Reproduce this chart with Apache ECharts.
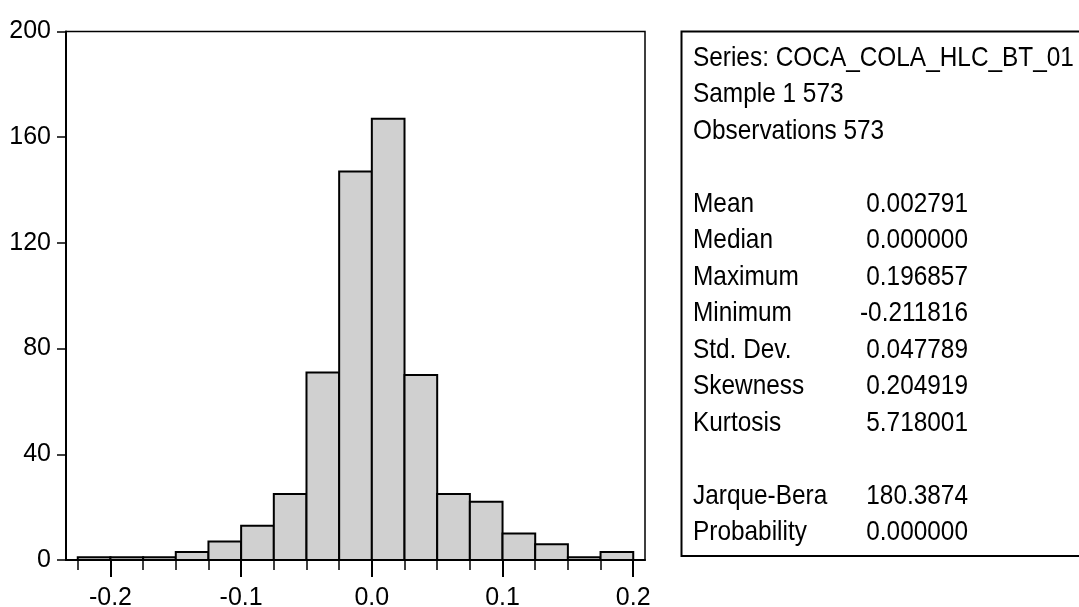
<!DOCTYPE html>
<html>
<head>
<meta charset="utf-8">
<script src="https://cdn.jsdelivr.net/npm/echarts@6/dist/echarts.min.js"></script>
<style>
  html, body { margin: 0; padding: 0; background: #fff; }
  #chart { width: 1079px; height: 607px; }
</style>
</head>
<body>
<div id="chart"></div>
<script>
  // histogram bins (lower edge), width 0.025
  var binLower = [-0.225, -0.2, -0.175, -0.15, -0.125, -0.1, -0.075, -0.05, -0.025,
                  0, 0.025, 0.05, 0.075, 0.1, 0.125, 0.15, 0.175];
  var binWidth = 0.025;
  var counts = [1, 1, 1, 3, 7, 13, 25, 71, 147, 167, 70, 25, 22, 10, 6, 1, 3];

  var xMajorTicks = [-0.2, -0.1, 0.0, 0.1, 0.2];
  var xMinorTicks = [-0.225, -0.2, -0.175, -0.15, -0.125, -0.1, -0.075, -0.05, -0.025,
                     0, 0.025, 0.05, 0.075, 0.1, 0.125, 0.15, 0.175, 0.2];

  // stats panel
  var headerLines = ['Series: COCA_COLA_HLC_BT_01', 'Sample 1 573', 'Observations 573'];
  var statNames = ['Mean', 'Median', 'Maximum', 'Minimum', 'Std. Dev.', 'Skewness', 'Kurtosis'];
  var statValues = ['0.002791', '0.000000', '0.196857', '-0.211816', '0.047789', '0.204919', '5.718001'];
  var testNames = ['Jarque-Bera', 'Probability'];
  var testValues = ['180.3874', '0.000000'];

  var font = 'Arial, "Liberation Sans", sans-serif';
  var chart = echarts.init(document.getElementById('chart'));

  var histData = binLower.map(function (lo, i) { return [lo, lo + binWidth, counts[i]]; });

  // text elements for the stats box
  var lineH = 36.5, y0 = 58, txtX = 693, valX = 968;
  var graphics = [{
    type: 'rect',
    shape: { x: 681.5, y: 31.5, width: 430, height: 524.5 },
    style: { fill: 'none', stroke: '#000', lineWidth: 2 }
  }];
  function addText(str, x, row, align) {
    graphics.push({
      type: 'text', x: x, y: y0 + row * lineH, scaleY: 1.12,
      style: { text: str, font: '24.4px ' + font, fill: '#000', align: align || 'left', verticalAlign: 'middle' }
    });
  }
  headerLines.forEach(function (s, i) { addText(s, txtX, i); });
  statNames.forEach(function (s, i) { addText(s, txtX, 4 + i); addText(statValues[i], valX, 4 + i, 'right'); });
  testNames.forEach(function (s, i) { addText(s, txtX, 12 + i); addText(testValues[i], valX, 12 + i, 'right'); });

  var option = {
    animation: false,
    backgroundColor: '#fff',
    textStyle: { fontFamily: font },
    grid: {
      left: 66, right: 434, top: 31.5, bottom: 47,
      outerBoundsMode: 'none', containLabel: false,
      show: true, borderColor: '#000', borderWidth: 1.5, backgroundColor: 'transparent'
    },
    xAxis: [{
      type: 'value', min: -0.234, max: 0.209,
      splitLine: { show: false },
      axisLine: { show: true, onZero: false, lineStyle: { color: '#000', width: 2 } },
      axisTick: { show: true, length: 17, customValues: xMajorTicks, lineStyle: { color: '#000', width: 2 } },
      axisLabel: {
        customValues: xMajorTicks, margin: 26, color: '#000', fontSize: 25, fontFamily: font,
        formatter: function (v) { return v.toFixed(1); }
      }
    }, {
      type: 'value', min: -0.234, max: 0.209, position: 'bottom',
      splitLine: { show: false },
      axisLine: { show: false, onZero: false },
      axisTick: { show: true, length: 10, customValues: xMinorTicks, lineStyle: { color: '#000', width: 1.5 } },
      axisLabel: { show: false }
    }],
    yAxis: {
      type: 'value', min: 0, max: 200, interval: 40,
      splitLine: { show: false },
      axisLine: { show: true, onZero: false, lineStyle: { color: '#000', width: 2 } },
      axisTick: { show: true, length: 9, lineStyle: { color: '#000', width: 1.5 } },
      axisLabel: { margin: 15, color: '#000', fontSize: 25, fontFamily: font }
    },
    series: [{
      type: 'custom',
      xAxisIndex: 0,
      data: histData,
      encode: { x: [0, 1], y: 2 },
      renderItem: function (params, api) {
        var p0 = api.coord([api.value(0), api.value(2)]);
        var p1 = api.coord([api.value(1), 0]);
        return {
          type: 'rect',
          shape: { x: p0[0], y: p0[1], width: p1[0] - p0[0], height: p1[1] - p0[1] },
          style: { fill: '#d0d0d0', stroke: '#000', lineWidth: 2 }
        };
      }
    }],
    graphic: graphics
  };
  chart.setOption(option);
</script>
</body>
</html>
